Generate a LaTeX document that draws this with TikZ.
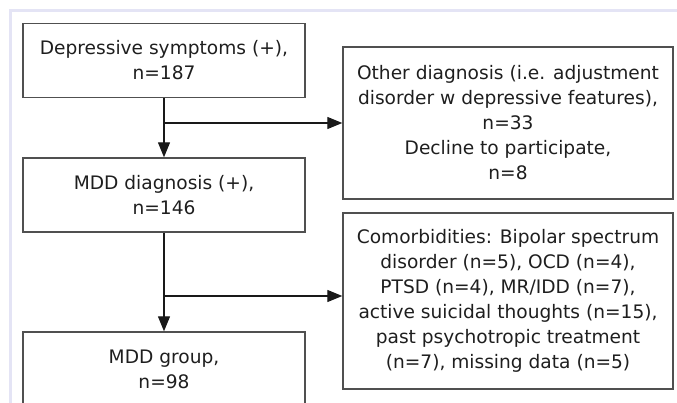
\documentclass[tikz,border=0pt]{standalone}
\usepackage{fontspec}
\setmainfont{DejaVu Sans}
\usetikzlibrary{arrows.meta}
\definecolor{framelav}{RGB}{228,228,245}
\definecolor{textgray}{RGB}{30,30,30}
\definecolor{boxgray}{RGB}{80,80,80}
\begin{document}
\begin{tikzpicture}[x=1pt, y=-1pt,
           box/.style = {shape=rectangle, draw=boxgray, line width=1.4pt,
             align=center, text=textgray, inner sep=0pt,
             font=\fontsize{18.6}{25}\selectfont},
           leftbox/.style = {box, minimum width=282pt, minimum height=74pt},
           rightbox/.style = {box, minimum width=330pt},
           flow/.style = {draw=black!90, line width=1.3pt,
             -{Triangle[length=15pt,width=12pt]}}]
  \useasboundingbox (0,0) rectangle (677,403);
  \draw[framelav, line width=2.5pt] (677,10.5) -- (10.5,10.5) -- (10.5,403);
  % left column
  \node[leftbox] (dep) at (164,60.5) {Depressive symptoms (+),\\ n=187};
  \node[leftbox] (diag) at (164,195) {MDD diagnosis (+),\\ n=146};
  \node[leftbox] (grp) at (164,369) {MDD group,\\ n=98};
  % right column
  \node[rightbox, minimum height=152pt] (other) at (508,123)
    {Other diagnosis (i.e. adjustment\\ disorder w depressive features),\\
     n=33\\ Decline to participate,\\ n=8};
  \node[rightbox, minimum height=176pt] (comorb) at (508,301)
    {Comorbidities: Bipolar spectrum\\ disorder (n=5), OCD (n=4),\\
     PTSD (n=4), MR/IDD (n=7),\\ active suicidal thoughts (n=15),\\
     past psychotropic treatment\\ (n=7), missing data (n=5)};
  % connectors
  \coordinate (br1) at (164,123);
  \coordinate (br2) at (164,296);
  \draw[flow] (dep) -- (diag);
  \draw[flow] (br1) -- (br1 -| other.west);
  \draw[flow] (diag) -- (grp);
  \draw[flow] (br2) -- (br2 -| comorb.west);
\end{tikzpicture}
\end{document}
